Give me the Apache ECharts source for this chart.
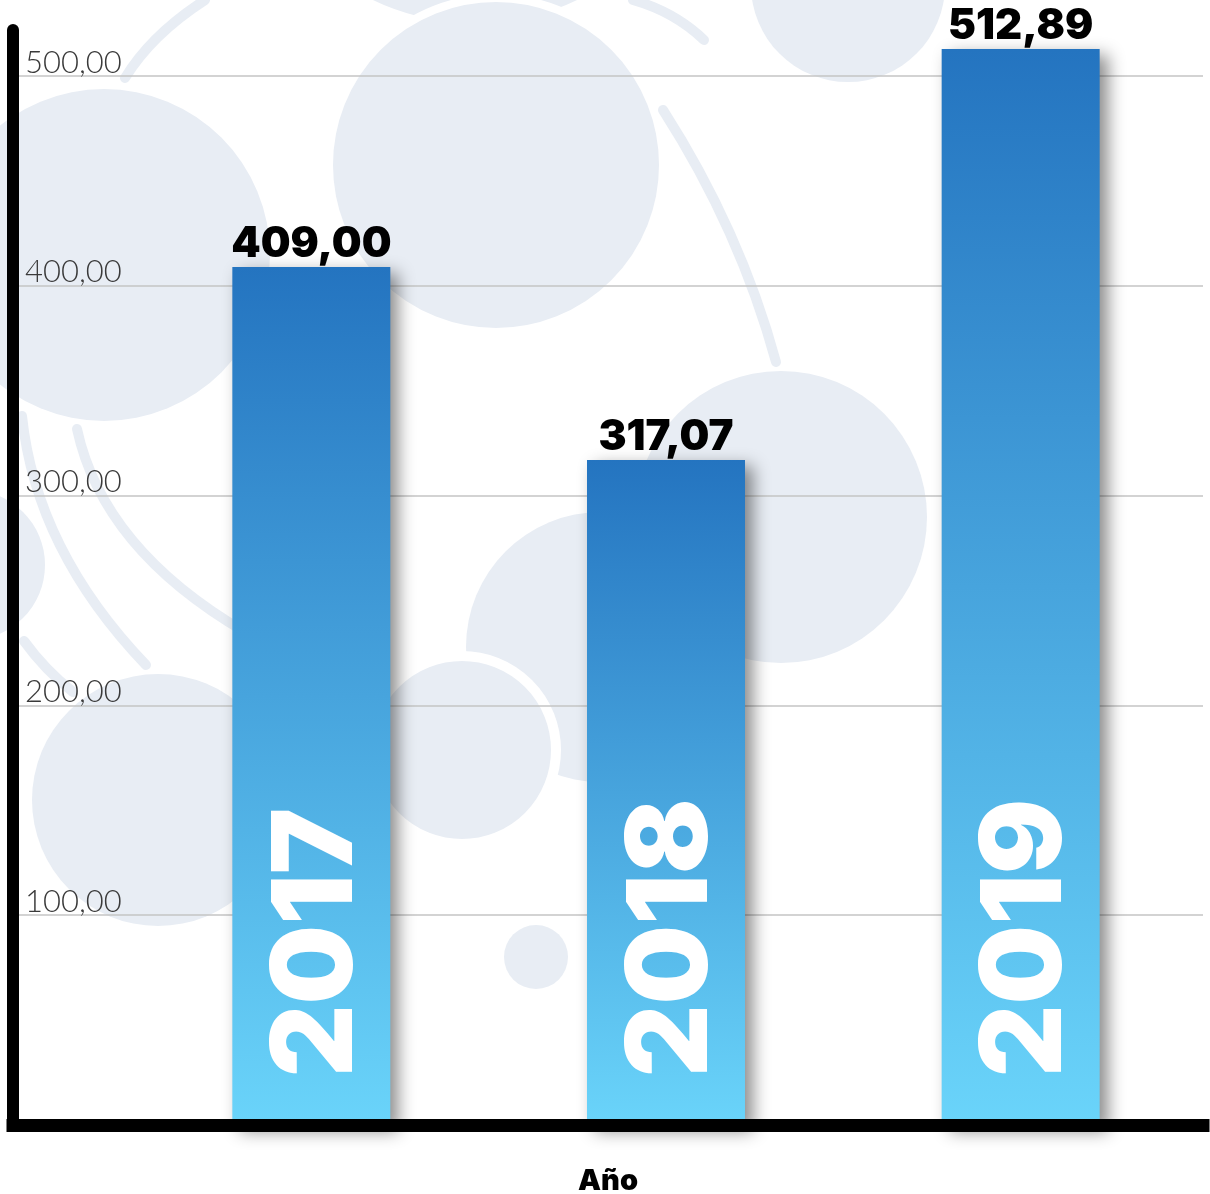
<!DOCTYPE html>
<html>
<head>
<meta charset="utf-8">
<script src="https://cdn.jsdelivr.net/npm/echarts@6/dist/echarts.min.js"></script>
<style>
  html, body { margin: 0; padding: 0; background: #ffffff; }
  #chart { width: 1210px; height: 1194px; }
</style>
</head>
<body>
<div id="chart"></div>
<script>
// ---- data ----
const categories = ['2017', '2018', '2019'];
const values = [409.00, 317.07, 512.89];
const axisTitle = 'Año';
const yMin = 0;
const yMax = 522;
const yInterval = 100;

const fmt = v => Number(v).toFixed(2).replace('.', ',');
const heavyFont = 'Inter';

// ---- decoration (background bubbles, not data) ----
const bubbleColor = '#E8EDF4';
const bubbles = [
  [104, 255, 166, 0], [475, -215, 238, 0], [496, 165, 167, 8], [848, -15, 97, 0],
  [781, 517, 146, 0], [-30, 565, 75, 0], [158, 800, 126, 0], [601, 647, 135, 0],
  [462, 750, 94, 10], [536, 957, 32, 0]
];
const arcs = [
  [125, 78, 151, 35, 205, 0], [633, 0, 675, 12, 704, 40], [663, 110, 740, 230, 776, 362],
  [22, 416, 36, 550, 146, 665], [77, 429, 103, 549, 245, 632], [24, 641, 45, 670, 73, 692]
];
const graphics = [];
bubbles.forEach(b => graphics.push({
  type: 'circle', z: -10, silent: true,
  shape: { cx: b[0], cy: b[1], r: b[2] },
  style: { fill: bubbleColor, stroke: b[3] ? '#ffffff' : null, lineWidth: b[3] }
}));
arcs.forEach(a => graphics.push({
  type: 'bezierCurve', z: -10, silent: true,
  shape: { x1: a[0], y1: a[1], cpx1: a[2], cpy1: a[3], x2: a[4], y2: a[5] },
  style: { fill: null, stroke: bubbleColor, lineWidth: 10, lineCap: 'round' }
}));

const chart = echarts.init(document.getElementById('chart'));
chart.setOption({
  animation: false,
  backgroundColor: '#ffffff',
  textStyle: { fontFamily: 'Lato' },
  graphic: graphics,
  grid: [
    { left: 13, right: 7, top: 30, bottom: 69, containLabel: false, outerBoundsMode: 'none' },
    { left: 134, right: 12, top: 30, bottom: 69, containLabel: false, outerBoundsMode: 'none' }
  ],
  xAxis: [
    {
      gridIndex: 0, type: 'category', data: categories, z: 10,
      axisLine: { lineStyle: { color: '#000', width: 13, cap: 'square' } },
      axisTick: { show: false }, axisLabel: { show: false },
      name: axisTitle, nameLocation: 'middle', nameGap: 42,
      nameTextStyle: { fontFamily: heavyFont, fontWeight: 900, fontSize: 29, color: '#000', verticalAlign: 'top' }
    },
    { gridIndex: 1, type: 'category', data: categories, show: false }
  ],
  yAxis: [
    {
      gridIndex: 0, type: 'value', min: yMin, max: yMax, interval: yInterval,
      axisLine: { show: true, lineStyle: { color: '#000', width: 12 } },
      axisTick: { show: false },
      axisLabel: {
        inside: true, margin: 12, verticalAlign: 'bottom', lineHeight: 27,
        showMinLabel: false, showMaxLabel: false,
        formatter: v => fmt(v),
        fontFamily: 'Lato', fontWeight: 300, fontSize: 31, color: '#3a3a3a'
      },
      splitLine: { show: true, showMinLine: false, showMaxLine: false, lineStyle: { color: '#c4c4c4', width: 1.5 } }
    },
    { gridIndex: 1, type: 'value', min: yMin, max: yMax, interval: yInterval, show: false }
  ],
  series: [
    {
      type: 'bar', xAxisIndex: 1, yAxisIndex: 1, data: values, barWidth: 158, z: 2,
      itemStyle: {
        color: new echarts.graphic.LinearGradient(0, 0, 0, 1, [
          { offset: 0, color: '#2474C0' }, { offset: 1, color: '#6AD4FA' }
        ]),
        shadowColor: 'rgba(0,0,0,0.45)', shadowBlur: 16, shadowOffsetX: 8, shadowOffsetY: 6
      },
      label: {
        show: true, position: 'top', distance: 2,
        formatter: p => fmt(p.value),
        fontFamily: heavyFont, fontWeight: 900, fontSize: 42, color: '#000'
      }
    },
    {
      type: 'bar', xAxisIndex: 1, yAxisIndex: 1, data: values, barWidth: 158, barGap: '-100%', z: 3,
      silent: true,
      itemStyle: { color: 'rgba(0,0,0,0)' },
      label: {
        show: true, position: 'insideBottom', distance: 48, rotate: 90,
        align: 'left', verticalAlign: 'middle', offset: [0, 7],
        formatter: p => p.name,
        fontFamily: heavyFont, fontWeight: 900, fontSize: 112, color: '#ffffff'
      }
    }
  ]
});
</script>
</body>
</html>
